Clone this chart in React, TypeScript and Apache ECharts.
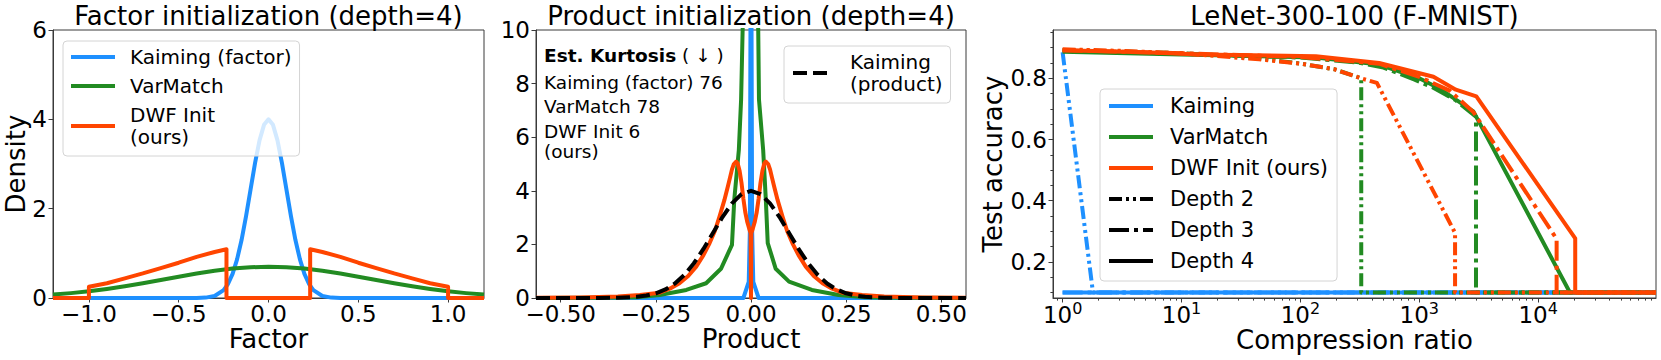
import React, { useEffect, useRef } from "react";
import * as echarts from "echarts";

const FONT = "DejaVu Sans";
const BLUE = "#1E90FF";
const GREEN = "#228B22";
const ORANGE = "#FF4500";
const AXIS = "#3a3a3a";

type P = [number, number];

// ---------- Panel 1: factor densities (x = factor, y = density) ----------
const kaimingFactor: P[] = [
  [-1.2, 0], [-0.5, 0], [-0.4, 0.001], [-0.35, 0.009], [-0.3, 0.044], [-0.25, 0.176],
  [-0.225, 0.318], [-0.2, 0.541], [-0.175, 0.865], [-0.15, 1.298], [-0.125, 1.832],
  [-0.1, 2.426], [-0.075, 3.019], [-0.05, 3.53], [-0.025, 3.877], [0, 4.0],
  [0.025, 3.877], [0.05, 3.53], [0.075, 3.019], [0.1, 2.426], [0.125, 1.832],
  [0.15, 1.298], [0.175, 0.865], [0.2, 0.541], [0.225, 0.318], [0.25, 0.176],
  [0.3, 0.044], [0.35, 0.009], [0.4, 0.001], [0.5, 0], [1.2, 0],
];
const varMatchFactor: P[] = [
  [-1.2, 0.076], [-1.1, 0.109], [-1.0, 0.15], [-0.9, 0.201], [-0.8, 0.261], [-0.7, 0.329],
  [-0.6, 0.402], [-0.5, 0.476], [-0.4, 0.547], [-0.3, 0.609], [-0.2, 0.658], [-0.1, 0.689],
  [0, 0.7], [0.1, 0.689], [0.2, 0.658], [0.3, 0.609], [0.4, 0.547], [0.5, 0.476],
  [0.6, 0.402], [0.7, 0.329], [0.8, 0.261], [0.9, 0.201], [1.0, 0.15], [1.1, 0.109], [1.2, 0.076],
];
const dwfFactor: P[] = [
  [-1.2, 0], [-1.0, 0], [-1.0, 0.25], [-0.9, 0.33], [-0.8, 0.44], [-0.7, 0.55], [-0.6, 0.67],
  [-0.5, 0.79], [-0.4, 0.92], [-0.3, 1.03], [-0.234, 1.09], [-0.234, 0], [0.232, 0],
  [0.232, 1.09], [0.3, 1.03], [0.4, 0.92], [0.5, 0.79], [0.6, 0.67], [0.7, 0.55], [0.8, 0.44],
  [0.9, 0.33], [1.0, 0.25], [1.0, 0], [1.2, 0],
];

// ---------- Panel 2: product densities (x = product, y = density) ----------
const kaimingFactorProduct: P[] = [
  [-0.565, 0], [-0.02, 0], [-0.006, 0.6], [-0.003, 2.5], [-0.001, 12], [0, 40],
  [0.001, 12], [0.003, 2.5], [0.006, 0.6], [0.02, 0], [0.565, 0],
];
const varMatchProduct: P[] = [
  [-0.565, 0], [-0.4, 0.005], [-0.3, 0.03], [-0.24, 0.11], [-0.17, 0.3], [-0.118, 0.55],
  [-0.079, 1.09], [-0.05, 1.98], [-0.044, 3.66], [-0.032, 5.52], [-0.026, 7.4], [-0.022, 10],
  [-0.015, 14], [0.014, 14], [0.019, 10], [0.021, 7.4], [0.032, 5.52], [0.039, 3.66],
  [0.044, 2.05], [0.065, 1.09], [0.1, 0.61], [0.16, 0.3], [0.23, 0.11], [0.3, 0.03],
  [0.4, 0.005], [0.565, 0],
];
const dwfProduct: P[] = [
  [-0.565, 0.005], [-0.45, 0.02], [-0.35, 0.06], [-0.292, 0.11], [-0.24, 0.2], [-0.21, 0.37],
  [-0.188, 0.55], [-0.165, 0.82], [-0.144, 1.17], [-0.125, 1.6], [-0.109, 2.04], [-0.095, 2.5],
  [-0.083, 3.03], [-0.07, 3.65], [-0.061, 4.15], [-0.055, 4.5], [-0.05, 4.8], [-0.045, 5.0],
  [-0.039, 5.09], [-0.035, 5.02], [-0.03, 4.75], [-0.025, 4.3], [-0.02, 3.7], [-0.015, 3.2],
  [-0.01, 2.85], [-0.005, 2.6], [-0.001, 2.42], [0, 0], [0.001, 2.42], [0.005, 2.6],
  [0.01, 2.85], [0.015, 3.2], [0.02, 3.7], [0.025, 4.3], [0.03, 4.75], [0.035, 5.02],
  [0.039, 5.09], [0.045, 5.0], [0.05, 4.8], [0.055, 4.5], [0.061, 4.15], [0.07, 3.65],
  [0.083, 3.03], [0.095, 2.5], [0.109, 2.04], [0.125, 1.6], [0.144, 1.17], [0.165, 0.82],
  [0.188, 0.55], [0.21, 0.37], [0.24, 0.2], [0.292, 0.11], [0.35, 0.06], [0.45, 0.02],
  [0.565, 0.005],
];
const kaimingProduct: P[] = [
  [-0.565, 0], [-0.45, 0], [-0.4, 0.001], [-0.35, 0.009], [-0.3, 0.044], [-0.275, 0.091],
  [-0.25, 0.176], [-0.225, 0.318], [-0.2, 0.541], [-0.175, 0.865], [-0.15, 1.298],
  [-0.125, 1.832], [-0.1, 2.426], [-0.075, 3.019], [-0.05, 3.53], [-0.025, 3.877], [0, 4.0],
  [0.025, 3.877], [0.05, 3.53], [0.075, 3.019], [0.1, 2.426], [0.125, 1.832], [0.15, 1.298],
  [0.175, 0.865], [0.2, 0.541], [0.225, 0.318], [0.25, 0.176], [0.275, 0.091], [0.3, 0.044],
  [0.35, 0.009], [0.4, 0.001], [0.45, 0], [0.565, 0],
];
const kurtosisTitle = "Est. Kurtosis";
const kurtosisLines = ["Kaiming (factor) 76", "VarMatch 78", "DWF Init 6", "(ours)"];

// ---------- Panel 3: test accuracy vs compression ratio ----------
const kaimingD2: P[] = [[1, 0.885], [1.8, 0.1], [98000, 0.1]];
const kaimingD3: P[] = [[1, 0.1], [98000, 0.1]];
const kaimingD4: P[] = [[1, 0.1], [98000, 0.1]];
const varMatchD2: P[] = [
  [1, 0.893], [3, 0.888], [10, 0.882], [30, 0.872], [52, 0.862], [100, 0.848], [192, 0.83],
  [325, 0.8], [325, 0.1], [98000, 0.1],
];
const varMatchD3: P[] = [
  [1, 0.89], [10, 0.88], [100, 0.868], [300, 0.852], [500, 0.835], [913, 0.796], [1300, 0.77],
  [2000, 0.73], [3000, 0.675], [3000, 0.1], [98000, 0.1],
];
const varMatchD4: P[] = [
  [1, 0.887], [10, 0.878], [135, 0.868], [460, 0.845], [1000, 0.8], [1500, 0.765],
  [2850, 0.692], [18500, 0.1], [98000, 0.1],
];
const dwfD2: P[] = [
  [1, 0.895], [3, 0.89], [10, 0.882], [45, 0.862], [100, 0.848], [192, 0.83], [324, 0.8],
  [440, 0.785], [2000, 0.295], [2000, 0.1], [98000, 0.1],
];
const dwfD3: P[] = [
  [1, 0.892], [10, 0.882], [100, 0.87], [460, 0.848], [1000, 0.805], [1800, 0.76],
  [2850, 0.69], [14300, 0.275], [14300, 0.1], [98000, 0.1],
];
const dwfD4: P[] = [
  [1, 0.892], [5, 0.885], [14, 0.878], [135, 0.872], [460, 0.85], [1316, 0.805],
  [2030, 0.763], [3020, 0.741], [20500, 0.277], [20500, 0.1], [98000, 0.1],
];

// tick values
const p1XTicks = [-1, -0.5, 0, 0.5, 1];
const p1YTicks = [0, 2, 4, 6];
const p2XTicks = [-0.5, -0.25, 0, 0.25, 0.5];
const p2YTicks = [0, 2, 4, 6, 8, 10];
const p3XTicks = [1, 10, 100, 1000, 10000];
const p3YTicks = [0.2, 0.4, 0.6, 0.8];
const p3XMinor = [
  0.9, 2, 3, 4, 5, 6, 7, 8, 9, 20, 30, 40, 50, 60, 70, 80, 90, 200, 300, 400, 500, 600, 700,
  800, 900, 2000, 3000, 4000, 5000, 6000, 7000, 8000, 9000, 20000, 30000, 40000, 50000,
  60000, 70000, 80000, 90000,
];
const p3YMinor = [0.1, 0.15, 0.25, 0.3, 0.35, 0.45, 0.5, 0.55, 0.65, 0.7, 0.75, 0.85, 0.9, 0.95];

const DASH_D2 = [13, 4, 3, 4, 3, 4];
const DASH_D3 = [20, 5, 4, 5];
const DASH_PRODUCT = [14, 6];

function line(name: string, data: P[], color: string, xi: number, yi: number, type: any = "solid") {
  return {
    type: "line",
    name,
    data,
    xAxisIndex: xi,
    yAxisIndex: yi,
    symbol: "none",
    showSymbol: false,
    color,
    silent: true,
    animation: false,
    emphasis: { disabled: true },
    lineStyle: { color, width: 4, type, join: "round", cap: "butt" },
  };
}

const tick = (vals: number[], len = 4.5) => ({
  show: true,
  customValues: vals,
  length: len,
  lineStyle: { color: AXIS, width: 1 },
});
const axisLine = { show: true, onZero: false, lineStyle: { color: AXIS, width: 1 } };
const nameStyle = { fontSize: 26, fontFamily: FONT, color: "#000" };
const labelBase = { fontSize: 23, fontFamily: FONT, color: "#000" };
const minus = (s: string) => s.replace("-", "\u2212");

export default function App() {
  const ref = useRef<HTMLDivElement>(null);
  useEffect(() => {
    if (!ref.current) return;
    const chart = echarts.init(ref.current, undefined, { renderer: "svg" });
    const gridCommon = {
      show: true,
      borderColor: AXIS,
      borderWidth: 1,
      backgroundColor: "transparent",
      containLabel: false,
      outerBoundsMode: "none",
    };
    const legendCommon = {
      orient: "vertical",
      selectedMode: false,
      itemHeight: 2,
      itemStyle: { opacity: 0, borderWidth: 0 },
      backgroundColor: "rgba(255,255,255,0.8)",
      borderColor: "#d4d4d4",
      borderWidth: 1,
      borderRadius: 4,
      lineStyle: { width: 4 },
    };
    const option: any = {
      animation: false,
      backgroundColor: "#fff",
      grid: [
        { ...gridCommon, left: 53, top: 30, width: 431, height: 268 },
        { ...gridCommon, left: 536, top: 30, width: 430, height: 268 },
        { ...gridCommon, left: 1053, top: 30, width: 603, height: 268 },
      ],
      xAxis: [
        {
          type: "value", gridIndex: 0, min: -1.2, max: 1.2,
          axisLine, axisTick: tick(p1XTicks), splitLine: { show: false },
          axisLabel: { ...labelBase, customValues: p1XTicks, margin: 4, formatter: (v: number) => minus(v.toFixed(1)) },
          name: "Factor", nameLocation: "middle", nameGap: 28, nameTextStyle: nameStyle, nameMoveOverlap: false,
        },
        {
          type: "value", gridIndex: 1, min: -0.565, max: 0.565,
          axisLine, axisTick: tick(p2XTicks), splitLine: { show: false },
          axisLabel: { ...labelBase, customValues: p2XTicks, margin: 4, formatter: (v: number) => minus(v.toFixed(2)) },
          name: "Product", nameLocation: "middle", nameGap: 28, nameTextStyle: nameStyle, nameMoveOverlap: false,
        },
        {
          type: "log", logBase: 10, gridIndex: 2, min: 0.83, max: 98000, position: "bottom",
          axisLine, axisTick: tick(p3XTicks), splitLine: { show: false }, minorTick: { show: false },
          axisLabel: {
            ...labelBase, customValues: p3XTicks, margin: 2,
            formatter: (v: number) => `{b|10}{s|${Math.round(Math.log10(v))}}`,
            rich: {
              b: { fontSize: 23, fontFamily: FONT, color: "#000", lineHeight: 26, verticalAlign: "bottom" },
              s: { fontSize: 16, fontFamily: FONT, color: "#000", lineHeight: 8, verticalAlign: "top" },
            },
          },
          name: "Compression ratio", nameLocation: "middle", nameGap: 29, nameTextStyle: nameStyle, nameMoveOverlap: false,
        },
        {
          type: "log", logBase: 10, gridIndex: 2, min: 0.83, max: 98000, position: "bottom",
          axisLine: { show: false }, axisTick: tick(p3XMinor, 2.6), axisLabel: { show: false },
          splitLine: { show: false },
        },
      ],
      yAxis: [
        {
          type: "value", gridIndex: 0, min: 0, max: 6, interval: 2,
          axisLine, axisTick: tick(p1YTicks), splitLine: { show: false },
          axisLabel: { ...labelBase, customValues: p1YTicks, margin: 6 },
          name: "Density", nameLocation: "middle", nameGap: 24, nameTextStyle: nameStyle, nameMoveOverlap: false,
        },
        {
          type: "value", gridIndex: 1, min: 0, max: 10, interval: 2,
          axisLine, axisTick: tick(p2YTicks), splitLine: { show: false },
          axisLabel: { ...labelBase, customValues: p2YTicks, margin: 6 },
        },
        {
          type: "value", gridIndex: 2, min: 0.082, max: 0.958, position: "left",
          axisLine, axisTick: tick(p3YTicks), splitLine: { show: false },
          axisLabel: { ...labelBase, customValues: p3YTicks, margin: 6, formatter: (v: number) => v.toFixed(1) },
          name: "Test accuracy", nameLocation: "middle", nameGap: 47, nameTextStyle: nameStyle, nameMoveOverlap: false,
        },
        {
          type: "value", gridIndex: 2, min: 0.082, max: 0.958, position: "left", offset: 0,
          axisLine: { show: false }, axisTick: tick(p3YMinor, 2.6), axisLabel: { show: false },
          splitLine: { show: false },
        },
      ],
      legend: [
        {
          ...legendCommon,
          data: ["Kaiming (factor)", "VarMatch", "DWF Init\n(ours)"],
          left: 63, top: 41, padding: [5, 8, 8, 6], itemWidth: 44, itemGap: 7,
          textStyle: { fontSize: 20, lineHeight: 22, fontFamily: FONT, color: "#000", padding: [0, 0, 0, 10] },
        },
        {
          ...legendCommon,
          data: ["Kaiming\n(product)"],
          left: 784, top: 46, padding: [5, 8, 8, 7], itemWidth: 37, itemGap: 7,
          textStyle: { fontSize: 20, lineHeight: 22, fontFamily: FONT, color: "#000", padding: [0, 0, 0, 15] },
        },
        {
          ...legendCommon,
          data: ["Kaiming", "VarMatch", "DWF Init (ours)", "Depth 2", "Depth 3", "Depth 4"],
          left: 1100, top: 89, padding: [5, 9, 8, 7], itemWidth: 44, itemGap: 7,
          textStyle: { fontSize: 21, lineHeight: 24, fontFamily: FONT, color: "#000", padding: [0, 0, 0, 12] },
        },
      ],
      series: [
        line("Kaiming (factor)", kaimingFactor, BLUE, 0, 0),
        line("VarMatch", varMatchFactor, GREEN, 0, 0),
        line("DWF Init\n(ours)", dwfFactor, ORANGE, 0, 0),

        line("Kaiming (factor) product", kaimingFactorProduct, BLUE, 1, 1),
        line("VarMatch product", varMatchProduct, GREEN, 1, 1),
        line("DWF Init product", dwfProduct, ORANGE, 1, 1),
        line("Kaiming\n(product)", kaimingProduct, "#000", 1, 1, DASH_PRODUCT),

        line("Kaiming d2", kaimingD2, BLUE, 2, 2, DASH_D2),
        line("Kaiming d3", kaimingD3, BLUE, 2, 2, DASH_D3),
        line("Kaiming", kaimingD4, BLUE, 2, 2),
        line("VarMatch d2", varMatchD2, GREEN, 2, 2, DASH_D2),
        line("VarMatch d3", varMatchD3, GREEN, 2, 2, DASH_D3),
        line("VarMatch d4", varMatchD4, GREEN, 2, 2),
        line("DWF d2", dwfD2, ORANGE, 2, 2, DASH_D2),
        line("DWF d3", dwfD3, ORANGE, 2, 2, DASH_D3),
        line("DWF Init (ours)", dwfD4, ORANGE, 2, 2),
        line("Depth 2", [], "#000", 2, 2, DASH_D2),
        line("Depth 3", [], "#000", 2, 2, DASH_D3),
        line("Depth 4", [], "#000", 2, 2),
      ],
      graphic: [
        { type: "text", x: 268.5, y: 16, silent: true, style: { text: "Factor initialization (depth=4)", fontSize: 26, fontFamily: FONT, fill: "#000", align: "center", verticalAlign: "middle" } },
        { type: "text", x: 751, y: 16, silent: true, style: { text: "Product initialization (depth=4)", fontSize: 26, fontFamily: FONT, fill: "#000", align: "center", verticalAlign: "middle" } },
        { type: "text", x: 1354.5, y: 16, silent: true, style: { text: "LeNet-300-100 (F-MNIST)", fontSize: 26, fontFamily: FONT, fill: "#000", align: "center", verticalAlign: "middle" } },
        {
          type: "text", x: 544, y: 55.3, silent: true,
          style: {
            text: `{b|${kurtosisTitle}} ( \u2193 )`, fontSize: 18.5, fontFamily: FONT, fill: "#000", verticalAlign: "middle",
            rich: { b: { fontSize: 18.5, fontFamily: FONT, fontWeight: "bold", fill: "#000" } },
          },
        },
        { type: "text", x: 544, y: 82, silent: true, style: { text: kurtosisLines[0], fontSize: 18.5, fontFamily: FONT, fill: "#000", verticalAlign: "middle" } },
        { type: "text", x: 544, y: 106.7, silent: true, style: { text: kurtosisLines[1], fontSize: 18.5, fontFamily: FONT, fill: "#000", verticalAlign: "middle" } },
        { type: "text", x: 544, y: 131.3, silent: true, style: { text: kurtosisLines[2], fontSize: 18.5, fontFamily: FONT, fill: "#000", verticalAlign: "middle" } },
        { type: "text", x: 544, y: 151.7, silent: true, style: { text: kurtosisLines[3], fontSize: 18.5, fontFamily: FONT, fill: "#000", verticalAlign: "middle" } },
      ],
    };
    chart.setOption(option);
    return () => chart.dispose();
  }, []);
  return (
    <div
      ref={ref}
      style={{ position: "absolute", left: 0, top: 0, width: 1661, height: 360 }}
    />
  );
}
